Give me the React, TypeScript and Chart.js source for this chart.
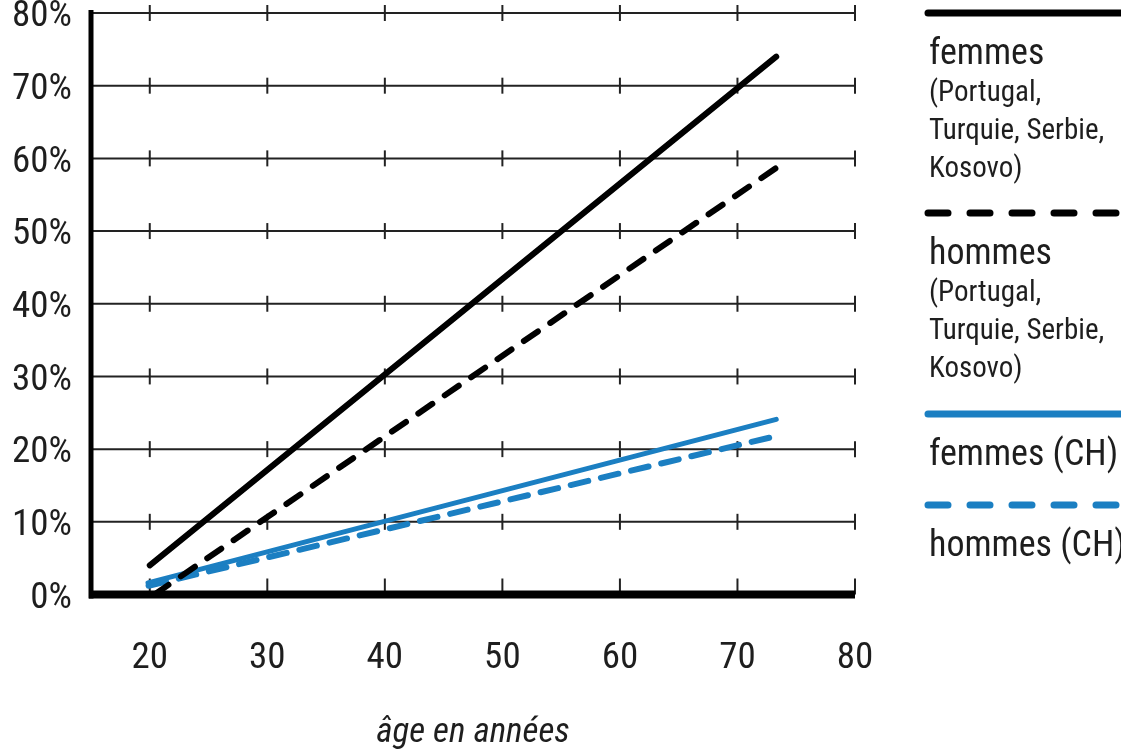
import React, { useEffect, useRef } from "react";
import { Chart, registerables } from "chart.js";
Chart.register(...registerables);

const xTickValues = [20, 30, 40, 50, 60, 70, 80];
const yTickValues = [0, 10, 20, 30, 40, 50, 60, 70, 80];

const femmesEtrAges = [20, 73.3];
const femmesEtrValues = [4.0, 74.0];
const hommesEtrAges = [20.4, 73.4];
const hommesEtrValues = [0, 58.8];
const femmesChAges = [19.85, 73.3];
const femmesChValues = [1.6, 24.1];
const hommesChAges = [19.9, 73.3];
const hommesChValues = [1.2, 21.8];

const legendLabels = ["femmes", "hommes", "femmes (CH)", "hommes (CH)"];
const legendSubLabels = [
  ["(Portugal,", "Turquie, Serbie,", "Kosovo)"],
  ["(Portugal,", "Turquie, Serbie,", "Kosovo)"],
  [],
  [],
];

const BLACK = "#000000";
const BLUE = "#1b7fc2";
const TEXT = "#1e1e1e";
const FONT = "'Liberation Sans Narrow', 'Arial Narrow', 'Roboto Condensed', 'Liberation Sans', sans-serif";

const pts = (xs: number[], ys: number[]) => xs.map((x, i) => ({ x, y: ys[i] }));

const gridPlugin = {
  id: "customGrid",
  beforeDatasetsDraw(chart: any) {
    const { ctx, chartArea, scales } = chart;
    const xs = scales.x;
    const ys = scales.y;
    ctx.save();
    ctx.strokeStyle = "#222";
    ctx.lineWidth = 2;
    yTickValues.forEach((v) => {
      const y = ys.getPixelForValue(v);
      if (v !== 0) {
        ctx.beginPath();
        ctx.moveTo(chartArea.left, y);
        ctx.lineTo(chartArea.right, y);
        ctx.stroke();
      }
      xTickValues.forEach((xv) => {
        const x = xs.getPixelForValue(xv);
        ctx.beginPath();
        ctx.moveTo(x, v === 0 ? y - 16 : y - 8);
        ctx.lineTo(x, v === 0 ? y : y + 8);
        ctx.stroke();
      });
    });
    ctx.restore();
  },
  afterDatasetsDraw(chart: any) {
    const { ctx, chartArea, scales } = chart;
    const ys = scales.y;
    ctx.save();
    ctx.strokeStyle = "#000";
    const y0 = ys.getPixelForValue(0);
    ctx.lineWidth = 8;
    ctx.beginPath();
    ctx.moveTo(chartArea.left - 2, y0);
    ctx.lineTo(chartArea.right, y0);
    ctx.stroke();
    ctx.lineWidth = 5;
    ctx.beginPath();
    ctx.moveTo(chartArea.left, chartArea.top - 3);
    ctx.lineTo(chartArea.left, y0 + 4);
    ctx.stroke();
    ctx.restore();
  },
  afterDraw(chart: any) {
    const { ctx } = chart;
    const ds = chart.data.datasets;
    const lineYs = [13, 213, 414, 505];
    ctx.save();
    legendLabels.forEach((label, i) => {
      const d = ds[i];
      const ly = lineYs[i];
      ctx.strokeStyle = d.borderColor;
      ctx.lineWidth = 7;
      ctx.lineCap = "round";
      ctx.setLineDash(d.borderDash && d.borderDash.length ? [20, 22] : []);
      ctx.beginPath();
      ctx.moveTo(928, ly);
      ctx.lineTo(1130, ly);
      ctx.stroke();
      ctx.setLineDash([]);
      ctx.fillStyle = TEXT;
      ctx.textBaseline = "alphabetic";
      ctx.textAlign = "left";
      ctx.font = `36px ${FONT}`;
      ctx.fillText(label, 929, ly + 51);
      ctx.font = `29px ${FONT}`;
      legendSubLabels[i].forEach((s, j) => {
        ctx.fillText(s, 929, ly + 88 + j * 38);
      });
    });
    ctx.restore();
  },
};

export default function App() {
  const ref = useRef<HTMLCanvasElement | null>(null);
  useEffect(() => {
    if (!ref.current) return;
    const chart = new Chart(ref.current, {
      type: "line",
      data: {
        datasets: [
          {
            label: "femmes (Portugal, Turquie, Serbie, Kosovo)",
            data: pts(femmesEtrAges, femmesEtrValues),
            borderColor: BLACK,
            borderWidth: 6,
            borderCapStyle: "round",
            pointRadius: 0,
            borderDash: [],
            order: 1,
          },
          {
            label: "hommes (Portugal, Turquie, Serbie, Kosovo)",
            data: pts(hommesEtrAges, hommesEtrValues),
            borderColor: BLACK,
            borderWidth: 6,
            borderCapStyle: "round",
            borderDash: [17, 15],
            pointRadius: 0,
            order: 2,
          },
          {
            label: "femmes (CH)",
            data: pts(femmesChAges, femmesChValues),
            borderColor: BLUE,
            borderWidth: 5,
            borderCapStyle: "round",
            borderDash: [],
            pointRadius: 0,
            order: 4,
          },
          {
            label: "hommes (CH)",
            data: pts(hommesChAges, hommesChValues),
            borderColor: BLUE,
            borderWidth: 6,
            borderCapStyle: "round",
            borderDash: [18, 13],
            pointRadius: 0,
            order: 3,
          },
        ],
      },
      options: {
        animation: false,
        responsive: false,
        maintainAspectRatio: false,
        layout: { padding: { left: 0, top: 13, right: 266, bottom: 0 } },
        plugins: { legend: { display: false }, tooltip: { enabled: false } },
        elements: { line: { tension: 0 } },
        scales: {
          x: {
            type: "linear",
            min: 15,
            max: 80,
            afterBuildTicks: (s: any) => {
              s.ticks = xTickValues.map((v) => ({ value: v }));
            },
            afterFit: (s: any) => {
              s.height = 754 - 594.5;
              s.paddingLeft = 0;
              s.paddingRight = 0;
            },
            grid: { display: false, drawTicks: false },
            border: { display: false },
            ticks: {
              color: TEXT,
              font: { family: FONT, size: 37 },
              padding: 42,
              maxRotation: 0,
              autoSkip: false,
            },
            title: {
              display: true,
              text: "âge en années",
              color: TEXT,
              font: { family: FONT, size: 35, style: "italic" },
              padding: { top: 0, bottom: 0 },
            },
          },
          y: {
            type: "linear",
            min: 0,
            max: 80,
            afterBuildTicks: (s: any) => {
              s.ticks = yTickValues.map((v) => ({ value: v }));
            },
            afterFit: (s: any) => {
              s.width = 91;
              s.paddingTop = 0;
              s.paddingBottom = 0;
            },
            grid: { display: false, drawTicks: false },
            border: { display: false },
            ticks: {
              color: TEXT,
              font: { family: FONT, size: 37 },
              padding: 19,
              labelOffset: 4,
              callback: (v: any) => `${v}%`,
            },
          },
        },
      },
      plugins: [gridPlugin],
    } as any);
    return () => chart.destroy();
  }, []);
  return (
    <div style={{ position: "fixed", left: 0, top: 0, width: 1121, height: 754, background: "#fff" }}>
      <canvas ref={ref} width={1121} height={754} style={{ width: 1121, height: 754 }} />
    </div>
  );
}
